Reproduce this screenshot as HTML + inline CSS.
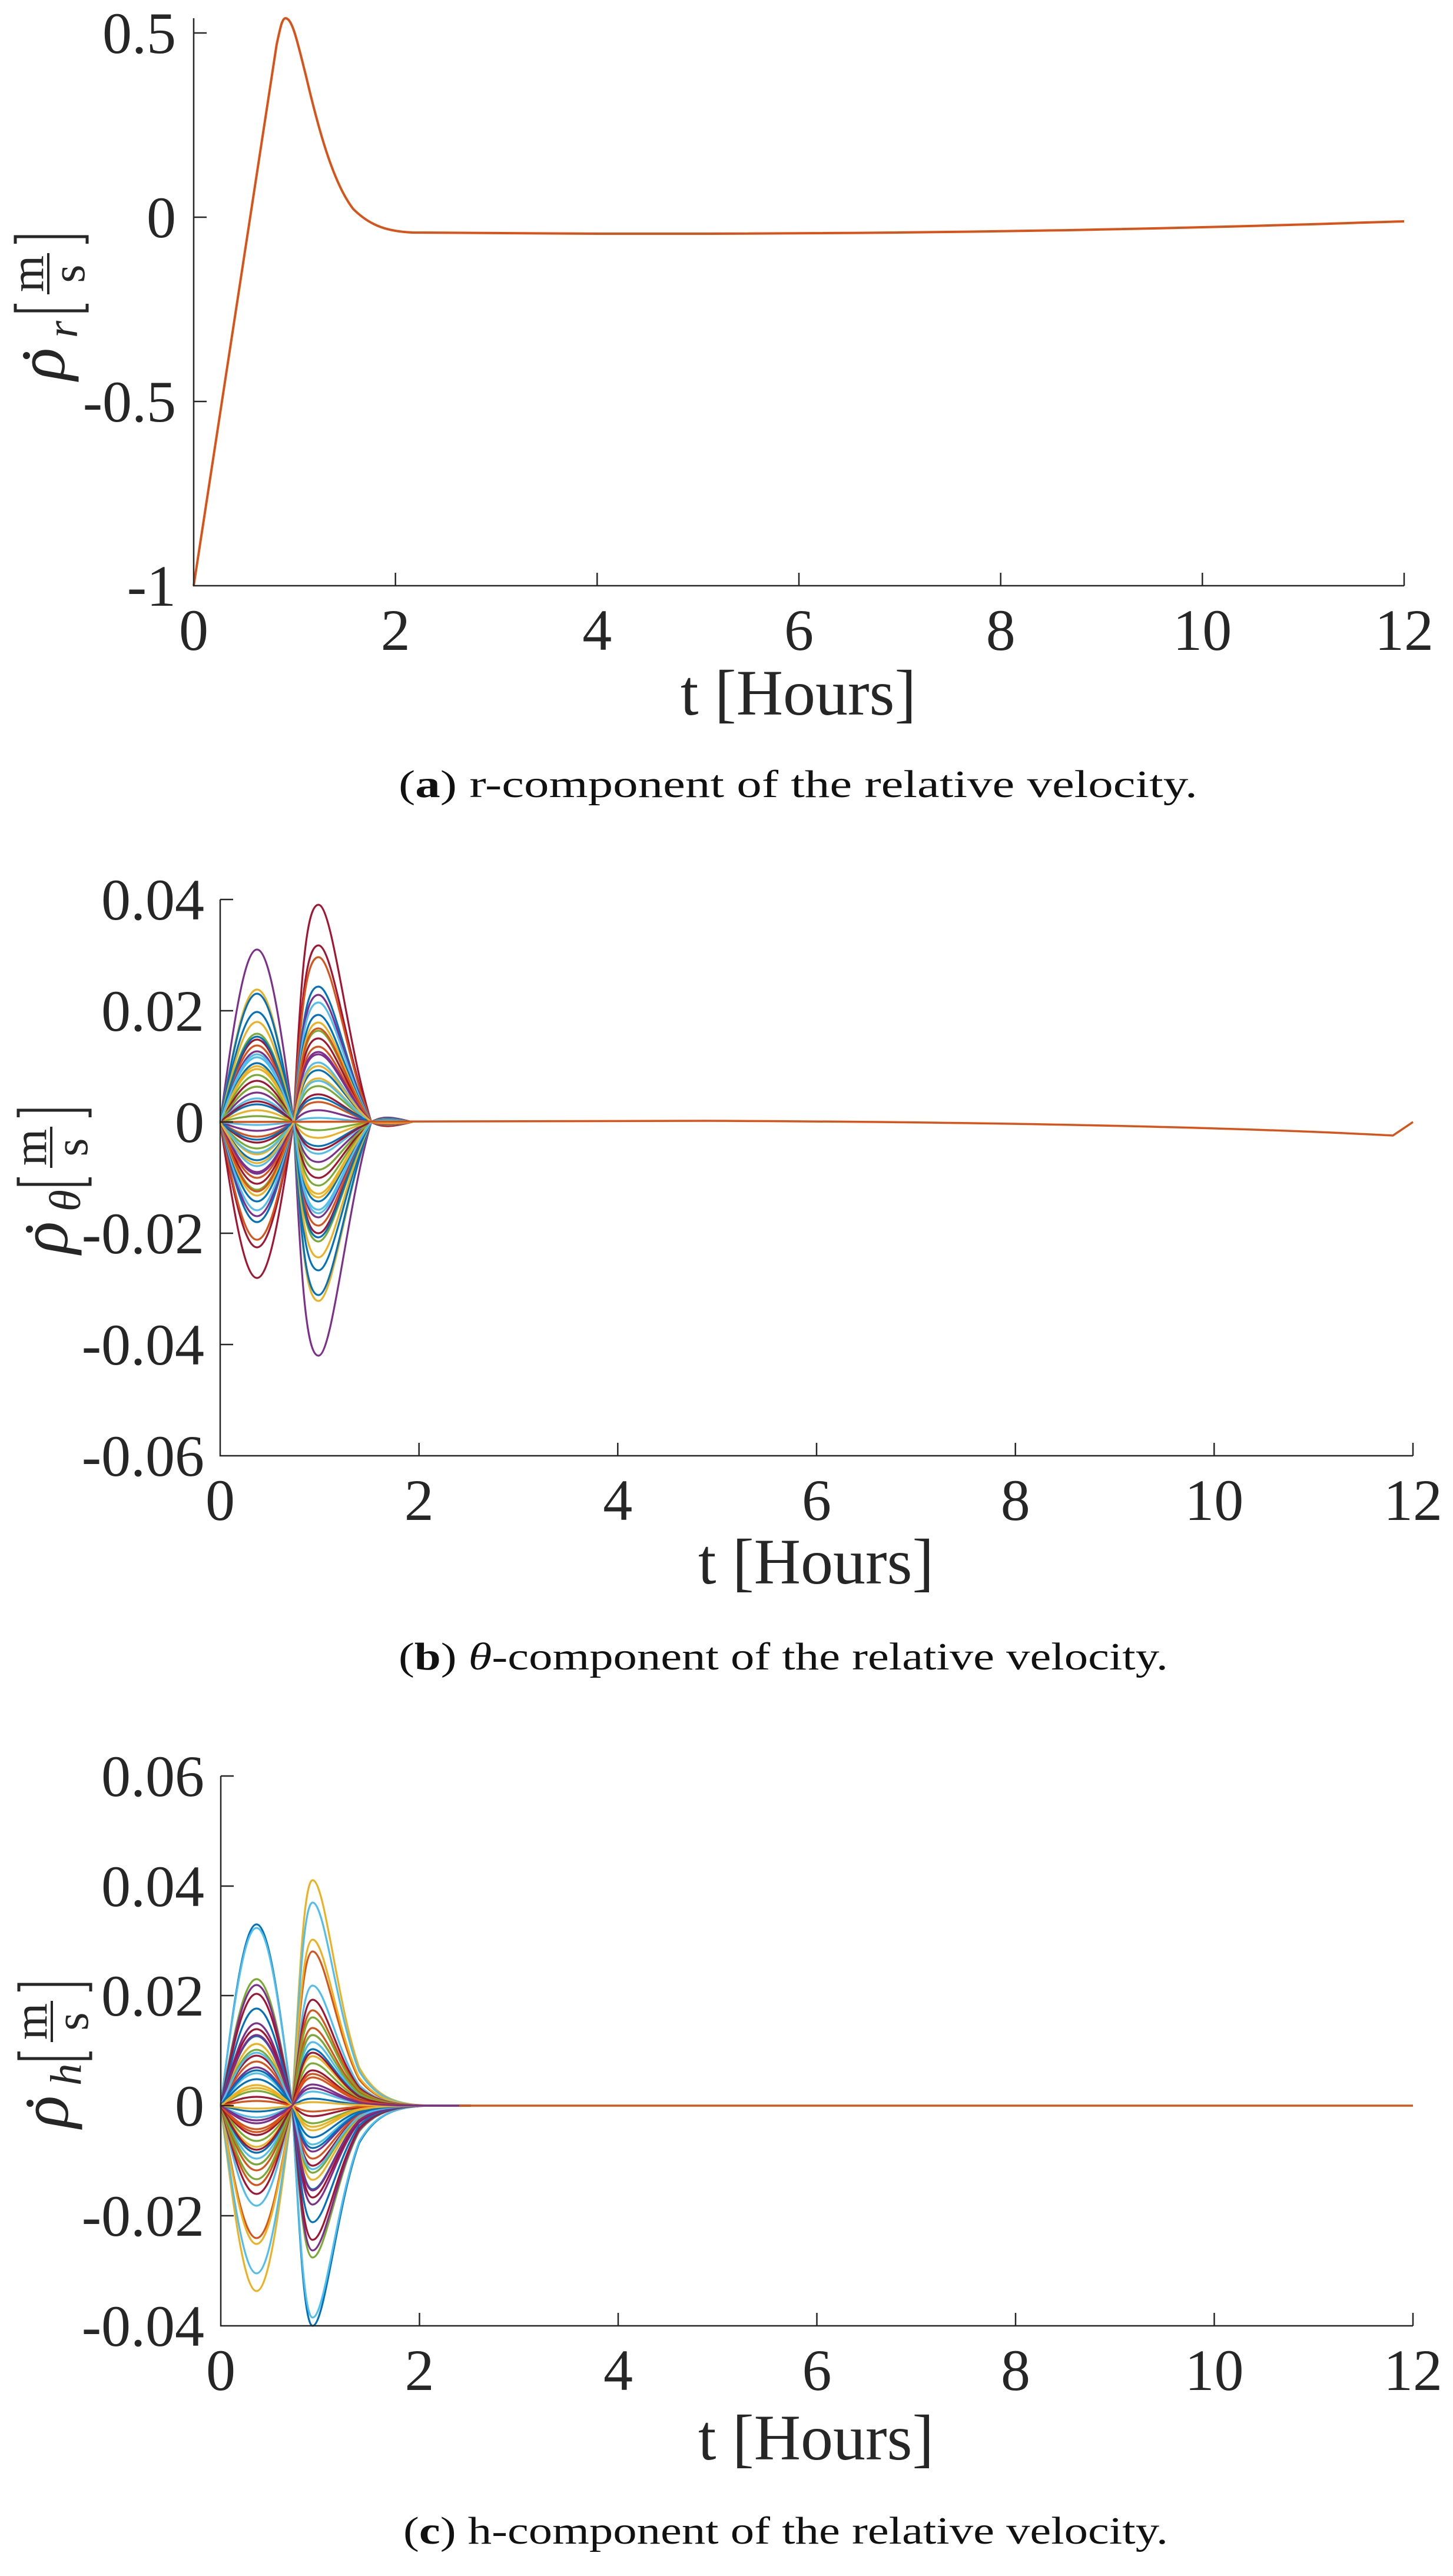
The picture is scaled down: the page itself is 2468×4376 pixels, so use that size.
<!DOCTYPE html>
<html><head><meta charset="utf-8"><style>
html,body{margin:0;padding:0;background:#fff;}
svg{display:block;}
text{font-family:"Liberation Serif",serif;}
.u{fill:none;stroke-width:3.2;vector-effect:non-scaling-stroke;stroke-linejoin:round;}
</style></head><body>
<svg width="2468" height="4376" viewBox="0 0 2468 4376" xmlns="http://www.w3.org/2000/svg" xmlns:xlink="http://www.w3.org/1999/xlink">
<defs>
<path id="l1b" class="u" d="M374,0 C396.7,-0.572 415.2,-1 436.5,-1 C457.7,-1 476.2,-0.572 498.9,0"/>
<path id="l2b" class="u" d="M498.9,0 C512,-0.75 522,-1 541,-1 C565,-1 590,-0.35 630.6,0 C650,0.03 670,0.02 700,0"/>
<path id="l1c" class="u" d="M375,0 C397.1,-0.572 415.1,-1 435.75,-1 C456.4,-1 474.4,-0.572 496.5,0"/>
<path id="l2c" class="u" d="M496.5,0 C508,-0.55 516,-1 531,-1 C552,-1 572,-0.45 610,-0.17 C650,0.02 700,0 800,0"/>
</defs>
<rect width="2468" height="4376" fill="#fff"/>

<!-- Panel a curve -->
<path d="M329,995 L470,75 C476,48 479,31 485,31 C497,31 506,75 520,130 C540,215 565,310 600,355 C630,385 660,393 700,395 L1014,397 C1700,398 2100,385 2385,376" fill="none" stroke="#D95319" stroke-width="4"/>

<!-- Panel b curves -->
<g>
<use xlink:href="#l1b" stroke="#7E2F8E" transform="matrix(1 0 0 293 0 1906)"/><use xlink:href="#l2b" stroke="#7E2F8E" transform="matrix(1 0 0 -397 0 1906)"/>
<use xlink:href="#l1b" stroke="#A2142F" transform="matrix(1 0 0 -265 0 1906)"/><use xlink:href="#l2b" stroke="#A2142F" transform="matrix(1 0 0 369 0 1906)"/>
<use xlink:href="#l1b" stroke="#EDB120" transform="matrix(1 0 0 225 0 1906)"/><use xlink:href="#l2b" stroke="#EDB120" transform="matrix(1 0 0 -304 0 1906)"/>
<use xlink:href="#l1b" stroke="#A2142F" transform="matrix(1 0 0 -213 0 1906)"/><use xlink:href="#l2b" stroke="#A2142F" transform="matrix(1 0 0 300 0 1906)"/>
<use xlink:href="#l1b" stroke="#0072BD" transform="matrix(1 0 0 218 0 1906)"/><use xlink:href="#l2b" stroke="#0072BD" transform="matrix(1 0 0 -294 0 1906)"/>
<use xlink:href="#l1b" stroke="#D95319" transform="matrix(1 0 0 -200 0 1906)"/><use xlink:href="#l2b" stroke="#D95319" transform="matrix(1 0 0 280 0 1906)"/>
<use xlink:href="#l1b" stroke="#0072BD" transform="matrix(1 0 0 187 0 1906)"/><use xlink:href="#l2b" stroke="#0072BD" transform="matrix(1 0 0 -252 0 1906)"/>
<use xlink:href="#l1b" stroke="#0072BD" transform="matrix(1 0 0 -170 0 1906)"/><use xlink:href="#l2b" stroke="#0072BD" transform="matrix(1 0 0 230 0 1906)"/>
<use xlink:href="#l1b" stroke="#EDB120" transform="matrix(1 0 0 170 0 1906)"/><use xlink:href="#l2b" stroke="#EDB120" transform="matrix(1 0 0 -230 0 1906)"/>
<use xlink:href="#l1b" stroke="#7E2F8E" transform="matrix(1 0 0 -160 0 1906)"/><use xlink:href="#l2b" stroke="#7E2F8E" transform="matrix(1 0 0 216 0 1906)"/>
<use xlink:href="#l1b" stroke="#77AC30" transform="matrix(1 0 0 150 0 1906)"/><use xlink:href="#l2b" stroke="#77AC30" transform="matrix(1 0 0 -203 0 1906)"/>
<use xlink:href="#l1b" stroke="#4DBEEE" transform="matrix(1 0 0 -150 0 1906)"/><use xlink:href="#l2b" stroke="#4DBEEE" transform="matrix(1 0 0 203 0 1906)"/>
<use xlink:href="#l1b" stroke="#A2142F" transform="matrix(1 0 0 140 0 1906)"/><use xlink:href="#l2b" stroke="#A2142F" transform="matrix(1 0 0 -189 0 1906)"/>
<use xlink:href="#l1b" stroke="#0072BD" transform="matrix(1 0 0 -135 0 1906)"/><use xlink:href="#l2b" stroke="#0072BD" transform="matrix(1 0 0 182 0 1906)"/>
<use xlink:href="#l1b" stroke="#D95319" transform="matrix(1 0 0 130 0 1906)"/><use xlink:href="#l2b" stroke="#D95319" transform="matrix(1 0 0 -176 0 1906)"/>
<use xlink:href="#l1b" stroke="#EDB120" transform="matrix(1 0 0 -125 0 1906)"/><use xlink:href="#l2b" stroke="#EDB120" transform="matrix(1 0 0 169 0 1906)"/>
<use xlink:href="#l1b" stroke="#7E2F8E" transform="matrix(1 0 0 120 0 1906)"/><use xlink:href="#l2b" stroke="#7E2F8E" transform="matrix(1 0 0 -162 0 1906)"/>
<use xlink:href="#l1b" stroke="#77AC30" transform="matrix(1 0 0 -115 0 1906)"/><use xlink:href="#l2b" stroke="#77AC30" transform="matrix(1 0 0 155 0 1906)"/>
<use xlink:href="#l1b" stroke="#4DBEEE" transform="matrix(1 0 0 110 0 1906)"/><use xlink:href="#l2b" stroke="#4DBEEE" transform="matrix(1 0 0 -149 0 1906)"/>
<use xlink:href="#l1b" stroke="#A2142F" transform="matrix(1 0 0 -105 0 1906)"/><use xlink:href="#l2b" stroke="#A2142F" transform="matrix(1 0 0 142 0 1906)"/>
<use xlink:href="#l1b" stroke="#0072BD" transform="matrix(1 0 0 100 0 1906)"/><use xlink:href="#l2b" stroke="#0072BD" transform="matrix(1 0 0 -135 0 1906)"/>
<use xlink:href="#l1b" stroke="#D95319" transform="matrix(1 0 0 -95 0 1906)"/><use xlink:href="#l2b" stroke="#D95319" transform="matrix(1 0 0 128 0 1906)"/>
<use xlink:href="#l1b" stroke="#EDB120" transform="matrix(1 0 0 90 0 1906)"/><use xlink:href="#l2b" stroke="#EDB120" transform="matrix(1 0 0 -122 0 1906)"/>
<use xlink:href="#l1b" stroke="#7E2F8E" transform="matrix(1 0 0 -85 0 1906)"/><use xlink:href="#l2b" stroke="#7E2F8E" transform="matrix(1 0 0 115 0 1906)"/>
<use xlink:href="#l1b" stroke="#77AC30" transform="matrix(1 0 0 80 0 1906)"/><use xlink:href="#l2b" stroke="#77AC30" transform="matrix(1 0 0 -108 0 1906)"/>
<use xlink:href="#l1b" stroke="#4DBEEE" transform="matrix(1 0 0 -75 0 1906)"/><use xlink:href="#l2b" stroke="#4DBEEE" transform="matrix(1 0 0 101 0 1906)"/>
<use xlink:href="#l1b" stroke="#A2142F" transform="matrix(1 0 0 70 0 1906)"/><use xlink:href="#l2b" stroke="#A2142F" transform="matrix(1 0 0 -95 0 1906)"/>
<use xlink:href="#l1b" stroke="#0072BD" transform="matrix(1 0 0 -65 0 1906)"/><use xlink:href="#l2b" stroke="#0072BD" transform="matrix(1 0 0 88 0 1906)"/>
<use xlink:href="#l1b" stroke="#D95319" transform="matrix(1 0 0 60 0 1906)"/><use xlink:href="#l2b" stroke="#D95319" transform="matrix(1 0 0 -81 0 1906)"/>
<use xlink:href="#l1b" stroke="#EDB120" transform="matrix(1 0 0 -55 0 1906)"/><use xlink:href="#l2b" stroke="#EDB120" transform="matrix(1 0 0 74 0 1906)"/>
<use xlink:href="#l1b" stroke="#7E2F8E" transform="matrix(1 0 0 50 0 1906)"/><use xlink:href="#l2b" stroke="#7E2F8E" transform="matrix(1 0 0 -68 0 1906)"/>
<use xlink:href="#l1b" stroke="#77AC30" transform="matrix(1 0 0 -45 0 1906)"/><use xlink:href="#l2b" stroke="#77AC30" transform="matrix(1 0 0 61 0 1906)"/>
<use xlink:href="#l1b" stroke="#4DBEEE" transform="matrix(1 0 0 40 0 1906)"/><use xlink:href="#l2b" stroke="#4DBEEE" transform="matrix(1 0 0 -54 0 1906)"/>
<use xlink:href="#l1b" stroke="#A2142F" transform="matrix(1 0 0 -35 0 1906)"/><use xlink:href="#l2b" stroke="#A2142F" transform="matrix(1 0 0 47 0 1906)"/>
<use xlink:href="#l1b" stroke="#0072BD" transform="matrix(1 0 0 30 0 1906)"/><use xlink:href="#l2b" stroke="#0072BD" transform="matrix(1 0 0 -41 0 1906)"/>
<use xlink:href="#l1b" stroke="#D95319" transform="matrix(1 0 0 -25 0 1906)"/><use xlink:href="#l2b" stroke="#D95319" transform="matrix(1 0 0 34 0 1906)"/>
<use xlink:href="#l1b" stroke="#EDB120" transform="matrix(1 0 0 20 0 1906)"/><use xlink:href="#l2b" stroke="#EDB120" transform="matrix(1 0 0 -27 0 1906)"/>
<use xlink:href="#l1b" stroke="#7E2F8E" transform="matrix(1 0 0 -15 0 1906)"/><use xlink:href="#l2b" stroke="#7E2F8E" transform="matrix(1 0 0 20 0 1906)"/>
<use xlink:href="#l1b" stroke="#77AC30" transform="matrix(1 0 0 10 0 1906)"/><use xlink:href="#l2b" stroke="#77AC30" transform="matrix(1 0 0 -14 0 1906)"/>
<use xlink:href="#l1b" stroke="#4DBEEE" transform="matrix(1 0 0 -5 0 1906)"/><use xlink:href="#l2b" stroke="#4DBEEE" transform="matrix(1 0 0 7 0 1906)"/>
<use xlink:href="#l1b" stroke="#0072BD" transform="matrix(1 0 0 145 0 1906)"/><use xlink:href="#l2b" stroke="#0072BD" transform="matrix(1 0 0 -196 0 1906)"/>
<use xlink:href="#l1b" stroke="#D95319" transform="matrix(1 0 0 -118 0 1906)"/><use xlink:href="#l2b" stroke="#D95319" transform="matrix(1 0 0 159 0 1906)"/>
<use xlink:href="#l1b" stroke="#EDB120" transform="matrix(1 0 0 95 0 1906)"/><use xlink:href="#l2b" stroke="#EDB120" transform="matrix(1 0 0 -128 0 1906)"/>
<use xlink:href="#l1b" stroke="#7E2F8E" transform="matrix(1 0 0 -88 0 1906)"/><use xlink:href="#l2b" stroke="#7E2F8E" transform="matrix(1 0 0 119 0 1906)"/>
<use xlink:href="#l1b" stroke="#77AC30" transform="matrix(1 0 0 60 0 1906)"/><use xlink:href="#l2b" stroke="#77AC30" transform="matrix(1 0 0 -81 0 1906)"/>
<use xlink:href="#l1b" stroke="#4DBEEE" transform="matrix(1 0 0 -52 0 1906)"/><use xlink:href="#l2b" stroke="#4DBEEE" transform="matrix(1 0 0 70 0 1906)"/>
<use xlink:href="#l1b" stroke="#A2142F" transform="matrix(1 0 0 35 0 1906)"/><use xlink:href="#l2b" stroke="#A2142F" transform="matrix(1 0 0 -47 0 1906)"/>
<use xlink:href="#l1b" stroke="#0072BD" transform="matrix(1 0 0 -30 0 1906)"/><use xlink:href="#l2b" stroke="#0072BD" transform="matrix(1 0 0 41 0 1906)"/>
<use xlink:href="#l1b" stroke="#4DBEEE" transform="matrix(1 0 0 115 0 1906)"/><use xlink:href="#l2b" stroke="#4DBEEE" transform="matrix(1 0 0 -155 0 1906)"/>
<use xlink:href="#l1b" stroke="#EDB120" transform="matrix(1 0 0 -70 0 1906)"/><use xlink:href="#l2b" stroke="#EDB120" transform="matrix(1 0 0 95 0 1906)"/>
</g>
<path d="M374,1906 L1200,1904 C1700,1906 2100,1915 2366,1929 L2400,1906" fill="none" stroke="#D95319" stroke-width="3.5"/>

<!-- Panel c curves -->
<g>
<use xlink:href="#l1c" stroke="#0072BD" transform="matrix(1 0 0 308 0 3577)"/><use xlink:href="#l2c" stroke="#0072BD" transform="matrix(1 0 0 -374 0 3577)"/>
<use xlink:href="#l1c" stroke="#4DBEEE" transform="matrix(1 0 0 302 0 3577)"/><use xlink:href="#l2c" stroke="#4DBEEE" transform="matrix(1 0 0 -360 0 3577)"/>
<use xlink:href="#l1c" stroke="#EDB120" transform="matrix(1 0 0 -315 0 3577)"/><use xlink:href="#l2c" stroke="#EDB120" transform="matrix(1 0 0 383 0 3577)"/>
<use xlink:href="#l1c" stroke="#4DBEEE" transform="matrix(1 0 0 -285 0 3577)"/><use xlink:href="#l2c" stroke="#4DBEEE" transform="matrix(1 0 0 345 0 3577)"/>
<use xlink:href="#l1c" stroke="#77AC30" transform="matrix(1 0 0 215 0 3577)"/><use xlink:href="#l2c" stroke="#77AC30" transform="matrix(1 0 0 -258 0 3577)"/>
<use xlink:href="#l1c" stroke="#D95319" transform="matrix(1 0 0 -225 0 3577)"/><use xlink:href="#l2c" stroke="#D95319" transform="matrix(1 0 0 262 0 3577)"/>
<use xlink:href="#l1c" stroke="#7E2F8E" transform="matrix(1 0 0 205 0 3577)"/><use xlink:href="#l2c" stroke="#7E2F8E" transform="matrix(1 0 0 -246 0 3577)"/>
<use xlink:href="#l1c" stroke="#EDB120" transform="matrix(1 0 0 -235 0 3577)"/><use xlink:href="#l2c" stroke="#EDB120" transform="matrix(1 0 0 282 0 3577)"/>
<use xlink:href="#l1c" stroke="#A2142F" transform="matrix(1 0 0 190 0 3577)"/><use xlink:href="#l2c" stroke="#A2142F" transform="matrix(1 0 0 -228 0 3577)"/>
<use xlink:href="#l1c" stroke="#4DBEEE" transform="matrix(1 0 0 -170 0 3577)"/><use xlink:href="#l2c" stroke="#4DBEEE" transform="matrix(1 0 0 204 0 3577)"/>
<use xlink:href="#l1c" stroke="#0072BD" transform="matrix(1 0 0 165 0 3577)"/><use xlink:href="#l2c" stroke="#0072BD" transform="matrix(1 0 0 -198 0 3577)"/>
<use xlink:href="#l1c" stroke="#A2142F" transform="matrix(1 0 0 -150 0 3577)"/><use xlink:href="#l2c" stroke="#A2142F" transform="matrix(1 0 0 180 0 3577)"/>
<use xlink:href="#l1c" stroke="#7E2F8E" transform="matrix(1 0 0 140 0 3577)"/><use xlink:href="#l2c" stroke="#7E2F8E" transform="matrix(1 0 0 -168 0 3577)"/>
<use xlink:href="#l1c" stroke="#D95319" transform="matrix(1 0 0 -135 0 3577)"/><use xlink:href="#l2c" stroke="#D95319" transform="matrix(1 0 0 162 0 3577)"/>
<use xlink:href="#l1c" stroke="#A2142F" transform="matrix(1 0 0 130 0 3577)"/><use xlink:href="#l2c" stroke="#A2142F" transform="matrix(1 0 0 -156 0 3577)"/>
<use xlink:href="#l1c" stroke="#77AC30" transform="matrix(1 0 0 -125 0 3577)"/><use xlink:href="#l2c" stroke="#77AC30" transform="matrix(1 0 0 150 0 3577)"/>
<use xlink:href="#l1c" stroke="#0072BD" transform="matrix(1 0 0 118 0 3577)"/><use xlink:href="#l2c" stroke="#0072BD" transform="matrix(1 0 0 -142 0 3577)"/>
<use xlink:href="#l1c" stroke="#D95319" transform="matrix(1 0 0 -110 0 3577)"/><use xlink:href="#l2c" stroke="#D95319" transform="matrix(1 0 0 132 0 3577)"/>
<use xlink:href="#l1c" stroke="#EDB120" transform="matrix(1 0 0 105 0 3577)"/><use xlink:href="#l2c" stroke="#EDB120" transform="matrix(1 0 0 -126 0 3577)"/>
<use xlink:href="#l1c" stroke="#7E2F8E" transform="matrix(1 0 0 -100 0 3577)"/><use xlink:href="#l2c" stroke="#7E2F8E" transform="matrix(1 0 0 120 0 3577)"/>
<use xlink:href="#l1c" stroke="#77AC30" transform="matrix(1 0 0 95 0 3577)"/><use xlink:href="#l2c" stroke="#77AC30" transform="matrix(1 0 0 -114 0 3577)"/>
<use xlink:href="#l1c" stroke="#4DBEEE" transform="matrix(1 0 0 -90 0 3577)"/><use xlink:href="#l2c" stroke="#4DBEEE" transform="matrix(1 0 0 108 0 3577)"/>
<use xlink:href="#l1c" stroke="#A2142F" transform="matrix(1 0 0 85 0 3577)"/><use xlink:href="#l2c" stroke="#A2142F" transform="matrix(1 0 0 -102 0 3577)"/>
<use xlink:href="#l1c" stroke="#0072BD" transform="matrix(1 0 0 -80 0 3577)"/><use xlink:href="#l2c" stroke="#0072BD" transform="matrix(1 0 0 96 0 3577)"/>
<use xlink:href="#l1c" stroke="#D95319" transform="matrix(1 0 0 75 0 3577)"/><use xlink:href="#l2c" stroke="#D95319" transform="matrix(1 0 0 -90 0 3577)"/>
<use xlink:href="#l1c" stroke="#EDB120" transform="matrix(1 0 0 -70 0 3577)"/><use xlink:href="#l2c" stroke="#EDB120" transform="matrix(1 0 0 84 0 3577)"/>
<use xlink:href="#l1c" stroke="#7E2F8E" transform="matrix(1 0 0 65 0 3577)"/><use xlink:href="#l2c" stroke="#7E2F8E" transform="matrix(1 0 0 -78 0 3577)"/>
<use xlink:href="#l1c" stroke="#77AC30" transform="matrix(1 0 0 -60 0 3577)"/><use xlink:href="#l2c" stroke="#77AC30" transform="matrix(1 0 0 72 0 3577)"/>
<use xlink:href="#l1c" stroke="#4DBEEE" transform="matrix(1 0 0 55 0 3577)"/><use xlink:href="#l2c" stroke="#4DBEEE" transform="matrix(1 0 0 -66 0 3577)"/>
<use xlink:href="#l1c" stroke="#A2142F" transform="matrix(1 0 0 -50 0 3577)"/><use xlink:href="#l2c" stroke="#A2142F" transform="matrix(1 0 0 60 0 3577)"/>
<use xlink:href="#l1c" stroke="#0072BD" transform="matrix(1 0 0 45 0 3577)"/><use xlink:href="#l2c" stroke="#0072BD" transform="matrix(1 0 0 -54 0 3577)"/>
<use xlink:href="#l1c" stroke="#D95319" transform="matrix(1 0 0 -40 0 3577)"/><use xlink:href="#l2c" stroke="#D95319" transform="matrix(1 0 0 48 0 3577)"/>
<use xlink:href="#l1c" stroke="#EDB120" transform="matrix(1 0 0 35 0 3577)"/><use xlink:href="#l2c" stroke="#EDB120" transform="matrix(1 0 0 -42 0 3577)"/>
<use xlink:href="#l1c" stroke="#7E2F8E" transform="matrix(1 0 0 -30 0 3577)"/><use xlink:href="#l2c" stroke="#7E2F8E" transform="matrix(1 0 0 36 0 3577)"/>
<use xlink:href="#l1c" stroke="#77AC30" transform="matrix(1 0 0 25 0 3577)"/><use xlink:href="#l2c" stroke="#77AC30" transform="matrix(1 0 0 -30 0 3577)"/>
<use xlink:href="#l1c" stroke="#4DBEEE" transform="matrix(1 0 0 -20 0 3577)"/><use xlink:href="#l2c" stroke="#4DBEEE" transform="matrix(1 0 0 24 0 3577)"/>
<use xlink:href="#l1c" stroke="#A2142F" transform="matrix(1 0 0 15 0 3577)"/><use xlink:href="#l2c" stroke="#A2142F" transform="matrix(1 0 0 -18 0 3577)"/>
<use xlink:href="#l1c" stroke="#0072BD" transform="matrix(1 0 0 -10 0 3577)"/><use xlink:href="#l2c" stroke="#0072BD" transform="matrix(1 0 0 12 0 3577)"/>
<use xlink:href="#l1c" stroke="#D95319" transform="matrix(1 0 0 8 0 3577)"/><use xlink:href="#l2c" stroke="#D95319" transform="matrix(1 0 0 -10 0 3577)"/>
<use xlink:href="#l1c" stroke="#EDB120" transform="matrix(1 0 0 -5 0 3577)"/><use xlink:href="#l2c" stroke="#EDB120" transform="matrix(1 0 0 6 0 3577)"/>
<use xlink:href="#l1c" stroke="#7E2F8E" transform="matrix(1 0 0 120 0 3577)"/><use xlink:href="#l2c" stroke="#7E2F8E" transform="matrix(1 0 0 -144 0 3577)"/>
<use xlink:href="#l1c" stroke="#77AC30" transform="matrix(1 0 0 -100 0 3577)"/><use xlink:href="#l2c" stroke="#77AC30" transform="matrix(1 0 0 120 0 3577)"/>
<use xlink:href="#l1c" stroke="#4DBEEE" transform="matrix(1 0 0 90 0 3577)"/><use xlink:href="#l2c" stroke="#4DBEEE" transform="matrix(1 0 0 -108 0 3577)"/>
<use xlink:href="#l1c" stroke="#A2142F" transform="matrix(1 0 0 -75 0 3577)"/><use xlink:href="#l2c" stroke="#A2142F" transform="matrix(1 0 0 90 0 3577)"/>
<use xlink:href="#l1c" stroke="#0072BD" transform="matrix(1 0 0 60 0 3577)"/><use xlink:href="#l2c" stroke="#0072BD" transform="matrix(1 0 0 -72 0 3577)"/>
<use xlink:href="#l1c" stroke="#D95319" transform="matrix(1 0 0 -45 0 3577)"/><use xlink:href="#l2c" stroke="#D95319" transform="matrix(1 0 0 54 0 3577)"/>
<use xlink:href="#l1c" stroke="#EDB120" transform="matrix(1 0 0 30 0 3577)"/><use xlink:href="#l2c" stroke="#EDB120" transform="matrix(1 0 0 -36 0 3577)"/>
<use xlink:href="#l1c" stroke="#7E2F8E" transform="matrix(1 0 0 -25 0 3577)"/><use xlink:href="#l2c" stroke="#7E2F8E" transform="matrix(1 0 0 30 0 3577)"/>
</g>
<line x1="780" y1="3577" x2="2400" y2="3577" stroke="#D95319" stroke-width="3.5"/>

<!-- Axes -->
<g stroke="#262626" stroke-width="2.5" fill="none">
<path d="M329,31 V995 H2385"/>
<path d="M671.7,995 v-22 M1014.3,995 v-22 M1357,995 v-22 M1699.7,995 v-22 M2042.3,995 v-22 M2385,995 v-22"/>
<path d="M329,56 h22 M329,369 h22 M329,682 h22"/>
<path d="M374,1528 V2473 H2400"/>
<path d="M711.7,2473 v-22 M1049.3,2473 v-22 M1387,2473 v-22 M1724.7,2473 v-22 M2062.3,2473 v-22 M2400,2473 v-22"/>
<path d="M374,1528 h22 M374,1717 h22 M374,1906 h22 M374,2095 h22 M374,2284 h22"/>
<path d="M375,3017 V3951 H2400"/>
<path d="M712.5,3951 v-22 M1050,3951 v-22 M1387.5,3951 v-22 M1725,3951 v-22 M2062.5,3951 v-22 M2400,3951 v-22"/>
<path d="M375,3017 h22 M375,3204 h22 M375,3390 h22 M375,3577 h22 M375,3764 h22"/>
</g>

<!-- Tick labels -->
<g fill="#262626" font-size="100">
<g text-anchor="middle">
<text x="329" y="1104">0</text><text x="671.7" y="1104">2</text><text x="1014.3" y="1104">4</text><text x="1357" y="1104">6</text><text x="1699.7" y="1104">8</text><text x="2042.3" y="1104">10</text><text x="2385" y="1104">12</text>
<text x="374" y="2582">0</text><text x="711.7" y="2582">2</text><text x="1049.3" y="2582">4</text><text x="1387" y="2582">6</text><text x="1724.7" y="2582">8</text><text x="2062.3" y="2582">10</text><text x="2400" y="2582">12</text>
<text x="375" y="4060">0</text><text x="712.5" y="4060">2</text><text x="1050" y="4060">4</text><text x="1387.5" y="4060">6</text><text x="1725" y="4060">8</text><text x="2062.5" y="4060">10</text><text x="2400" y="4060">12</text>
</g>
<g text-anchor="end">
<text x="299" y="90">0.5</text><text x="299" y="403">0</text><text x="299" y="716">-0.5</text><text x="299" y="1029">-1</text>
<text x="347" y="1562">0.04</text><text x="347" y="1751">0.02</text><text x="347" y="1940">0</text><text x="347" y="2129">-0.02</text><text x="347" y="2318">-0.04</text><text x="347" y="2507">-0.06</text>
<text x="347" y="3051">0.06</text><text x="347" y="3238">0.04</text><text x="347" y="3424">0.02</text><text x="347" y="3611">0</text><text x="347" y="3798">-0.02</text><text x="347" y="3985">-0.04</text>
</g>
</g>

<!-- x labels -->
<text x="1356" y="1214" font-size="110" text-anchor="middle" fill="#262626">t [Hours]</text>
<text x="1386" y="2690" font-size="110" text-anchor="middle" fill="#262626">t [Hours]</text>
<text x="1386" y="4178" font-size="110" text-anchor="middle" fill="#262626">t [Hours]</text>

<!-- captions -->
<text x="677" y="1354" font-size="66" textLength="1357" lengthAdjust="spacingAndGlyphs" fill="#111">(<tspan font-weight="bold">a</tspan>) r-component of the relative velocity.</text>
<text x="677" y="2836" font-size="66" textLength="1307" lengthAdjust="spacingAndGlyphs" fill="#111">(<tspan font-weight="bold">b</tspan>) <tspan font-style="italic">θ</tspan>-component of the relative velocity.</text>
<text x="685" y="4321" font-size="66" textLength="1299" lengthAdjust="spacingAndGlyphs" fill="#111">(<tspan font-weight="bold">c</tspan>) h-component of the relative velocity.</text>

<!-- y labels -->
<g transform="translate(87,522) rotate(-90)" fill="#262626" stroke="none">
 <text x="-124" y="22" font-size="115" font-style="italic">ρ</text>
 <circle cx="-82" cy="-42" r="6"/>
 <text x="-52" y="44" font-size="75" font-style="italic">r</text>
 <path d="M6,-61 H-6 V61 H6 M108,-61 H120 V61 H108" stroke="#262626" stroke-width="5" fill="none"/>
 <text x="57" y="-14" font-size="80" text-anchor="middle">m</text>
 <line x1="22" y1="-5" x2="92" y2="-5" stroke="#262626" stroke-width="4"/>
 <text x="57" y="56" font-size="80" text-anchor="middle">s</text>
</g>
<g transform="translate(92,2006) rotate(-90)" fill="#262626" stroke="none">
 <text x="-124" y="22" font-size="115" font-style="italic">ρ</text>
 <circle cx="-82" cy="-42" r="6"/>
 <text x="-52" y="44" font-size="75" font-style="italic">θ</text>
 <path d="M6,-61 H-6 V61 H6 M108,-61 H120 V61 H108" stroke="#262626" stroke-width="5" fill="none"/>
 <text x="57" y="-14" font-size="80" text-anchor="middle">m</text>
 <line x1="22" y1="-5" x2="92" y2="-5" stroke="#262626" stroke-width="4"/>
 <text x="57" y="56" font-size="80" text-anchor="middle">s</text>
</g>
<g transform="translate(93,3491) rotate(-90)" fill="#262626" stroke="none">
 <text x="-124" y="22" font-size="115" font-style="italic">ρ</text>
 <circle cx="-82" cy="-42" r="6"/>
 <text x="-52" y="44" font-size="75" font-style="italic">h</text>
 <path d="M6,-61 H-6 V61 H6 M108,-61 H120 V61 H108" stroke="#262626" stroke-width="5" fill="none"/>
 <text x="57" y="-14" font-size="80" text-anchor="middle">m</text>
 <line x1="22" y1="-5" x2="92" y2="-5" stroke="#262626" stroke-width="4"/>
 <text x="57" y="56" font-size="80" text-anchor="middle">s</text>
</g>
</svg>
</body></html>
